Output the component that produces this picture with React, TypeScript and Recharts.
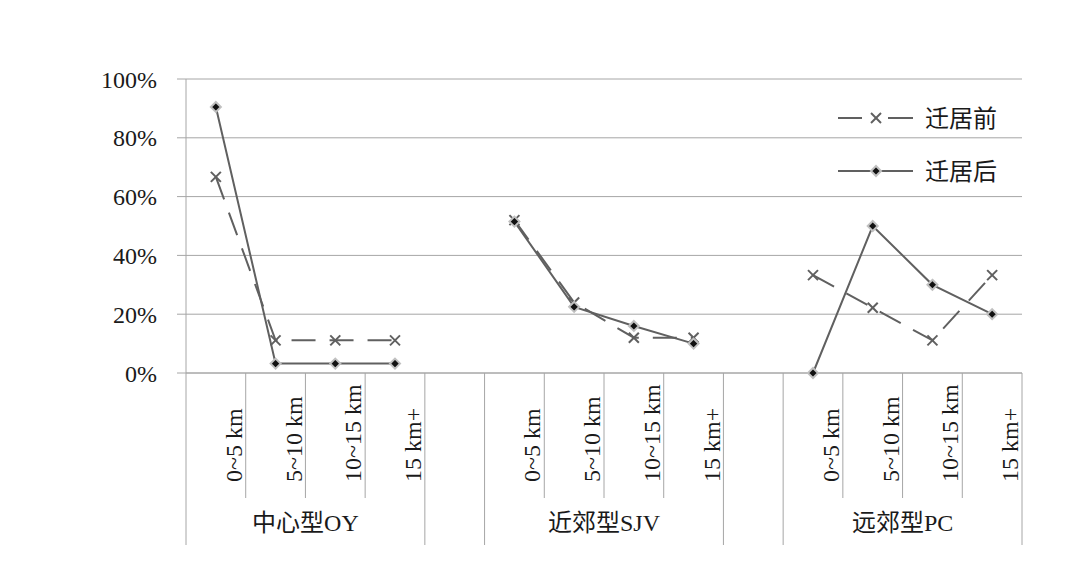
import { LineChart, Line, XAxis, YAxis, CartesianGrid, Legend } from "recharts";

// groups along the x axis, each with the same distance bands
const groups = ["中心型OY", "近郊型SJV", "远郊型PC"];
const distances = ["0~5 km", "5~10 km", "10~15 km", "15 km+"];

// share of households per distance band (0..1)
const beforeOY = [0.667, 0.111, 0.111, 0.111];
const beforeSJV = [0.52, 0.24, 0.12, 0.12];
const beforePC = [0.333, 0.222, 0.111, 0.333];
const afterOY = [0.905, 0.032, 0.032, 0.032];
const afterSJV = [0.515, 0.225, 0.16, 0.1];
const afterPC = [0, 0.5, 0.3, 0.2];

const yTicks = [0, 0.2, 0.4, 0.6, 0.8, 1];

const beforeByGroup = [beforeOY, beforeSJV, beforePC];
const afterByGroup = [afterOY, afterSJV, afterPC];

type Row = {
  key: string;
  label: string;
  group: number;
  pos: number;
  before: number | null;
  after: number | null;
};

const data: Row[] = [];
groups.forEach((g, gi) => {
  if (gi > 0) {
    data.push({ key: `gap${gi}`, label: "", group: -1, pos: -1, before: null, after: null });
  }
  distances.forEach((d, di) => {
    data.push({
      key: `${g}|${d}`,
      label: d,
      group: gi,
      pos: di,
      before: beforeByGroup[gi][di],
      after: afterByGroup[gi][di],
    });
  });
});

const W = 1077;
const H = 567;
const PLOT_L = 186;
const PLOT_R = 1022;
const PLOT_T = 79;
const PLOT_B = 373;
const BAND = (PLOT_R - PLOT_L) / data.length;

const LINE = "#606060";
const GRID = "#a6a6a6";
const TEXT = "#1a1a1a";
const SERIF = "'Liberation Serif', 'Times New Roman', 'Noto Sans CJK SC', serif";
const CJK = "'Liberation Serif', 'Times New Roman', 'Noto Sans CJK SC', sans-serif";

function isFull(i: number) {
  if (i <= 0 || i >= data.length) return true;
  return data[i].group === -1 || data[i - 1].group === -1;
}

function DistTick(props: any) {
  const { x, index } = props;
  const item = data[index];
  if (!item) return <g />;
  const left = x - BAND / 2;
  const right = x + BAND / 2;
  return (
    <g>
      <line x1={left} x2={left} y1={PLOT_B} y2={isFull(index) ? 545 : 498} stroke={GRID} />
      {index === data.length - 1 && (
        <line x1={right} x2={right} y1={PLOT_B} y2={545} stroke={GRID} />
      )}
      {item.label && (
        <text
          x={x + 26}
          y={482}
          transform={`rotate(-90 ${x + 26} 482)`}
          textAnchor="start"
          fontFamily={SERIF}
          fontSize={24}
          fill={TEXT}
        >
          {item.label}
        </text>
      )}
      {item.pos === 1 && (
        <text
          x={x + BAND / 2}
          y={531}
          textAnchor="middle"
          fontFamily={CJK}
          fontSize={24}
          fill={TEXT}
        >
          {groups[item.group]}
        </text>
      )}
    </g>
  );
}

function CrossDot(props: any) {
  const { cx, cy, index } = props;
  if (cx == null || cy == null || props.value == null) return <g key={`c${index}`} />;
  const s = 5;
  return (
    <g key={`c${index}`} stroke={LINE} strokeWidth={2}>
      <line x1={cx - s} y1={cy - s} x2={cx + s} y2={cy + s} />
      <line x1={cx - s} y1={cy + s} x2={cx + s} y2={cy - s} />
    </g>
  );
}

function DiamondDot(props: any) {
  const { cx, cy, index } = props;
  if (cx == null || cy == null || props.value == null) return <g key={`d${index}`} />;
  const s = 5;
  return (
    <polygon
      key={`d${index}`}
      points={`${cx},${cy - s} ${cx + s},${cy} ${cx},${cy + s} ${cx - s},${cy}`}
      fill="#111"
      stroke="#c0c0c0"
      strokeWidth={2}
    />
  );
}

function LegendBox() {
  return (
    <svg width={200} height={100}>
      <g stroke={LINE} strokeWidth={2}>
        <line x1={8} x2={32} y1={23} y2={23} />
        <line x1={58} x2={83} y1={23} y2={23} />
        <line x1={41} y1={18} x2={51} y2={28} />
        <line x1={41} y1={28} x2={51} y2={18} />
        <line x1={8} x2={83} y1={76} y2={76} />
      </g>
      <polygon points="46,71 51,76 46,81 41,76" fill="#111" stroke="#c0c0c0" strokeWidth={2} />
      <text x={95} y={32} fontFamily="'Noto Sans CJK SC', sans-serif" fontSize={24} fill={TEXT}>
        迁居前
      </text>
      <text x={95} y={85} fontFamily="'Noto Sans CJK SC', sans-serif" fontSize={24} fill={TEXT}>
        迁居后
      </text>
    </svg>
  );
}

export default function App() {
  return (
    <div style={{ position: "absolute", left: 0, top: 0, width: W, height: H, background: "#fff" }}>
      <LineChart
        width={W}
        height={H}
        data={data}
        margin={{ top: PLOT_T, right: W - PLOT_R, left: 0, bottom: 22 }}
      >
        <CartesianGrid vertical={false} stroke={GRID} />
        <XAxis
          dataKey="key"
          scale="band"
          interval={0}
          height={H - PLOT_B - 22}
          tickLine={false}
          axisLine={{ stroke: GRID }}
          tick={<DistTick />}
        />
        <YAxis
          width={PLOT_L}
          domain={[0, 1]}
          ticks={yTicks}
          tickFormatter={(v: number) => `${Math.round(v * 100)}%`}
          tickSize={9}
          tickMargin={20}
          axisLine={{ stroke: GRID }}
          tickLine={{ stroke: GRID }}
          tick={{ fontFamily: SERIF, fontSize: 24, fill: TEXT }}
        />
        <Legend
          layout="vertical"
          align="center"
          verticalAlign="middle"
          content={<LegendBox />}
          wrapperStyle={{ position: "absolute", left: 830, top: 95, width: 200, height: 100 }}
        />
        <Line
          dataKey="before"
          name="迁居前"
          stroke={LINE}
          strokeWidth={2}
          strokeDasharray="24 14"
          dot={<CrossDot />}
          activeDot={false}
          isAnimationActive={false}
        />
        <Line
          dataKey="after"
          name="迁居后"
          stroke={LINE}
          strokeWidth={2}
          dot={<DiamondDot />}
          activeDot={false}
          isAnimationActive={false}
        />
      </LineChart>
    </div>
  );
}
